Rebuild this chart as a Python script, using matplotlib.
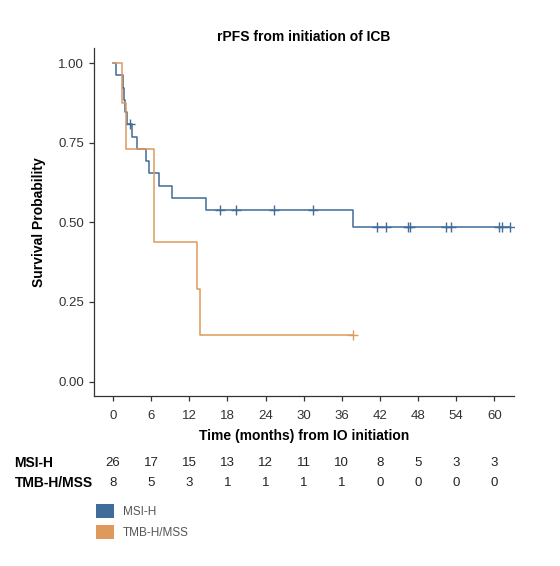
import numpy as np
import matplotlib
matplotlib.use("Agg")
import matplotlib.pyplot as plt
from matplotlib.patches import Patch

plt.rcParams['font.family'] = ['Liberation Sans', 'DejaVu Sans']

# step curves (time in months, survival)
msi_t = [0, 0.5, 1.5, 1.7, 1.9, 2.2, 2.9, 3.75, 5.2, 5.6, 7.2, 9.3, 14.6, 37.8]
msi_s = [1.0, 0.962, 0.923, 0.885, 0.846, 0.808, 0.769, 0.731, 0.692, 0.654, 0.615, 0.577, 0.538, 0.484]
msi_end = 62.4
msi_cens = [2.7, 16.75, 19.4, 25.4, 31.5, 41.6, 42.9, 46.4, 46.8, 52.4, 53.2, 60.7, 61.2, 62.4]

tmb_t = [0, 1.4, 2.1, 6.4, 13.2, 13.7]
tmb_s = [1.0, 0.875, 0.729, 0.438, 0.292, 0.146]
tmb_end = 37.8
tmb_cens = [37.8]

risk_times = [0, 6, 12, 18, 24, 30, 36, 42, 48, 54, 60]
msi_risk = [26, 17, 15, 13, 12, 11, 10, 8, 5, 3, 3]
tmb_risk = [8, 5, 3, 1, 1, 1, 1, 0, 0, 0, 0]

blue = '#3f6c99'
orange = '#dd9a5c'

fig = plt.figure(figsize=(5.6, 5.66), dpi=100)
ax = fig.add_axes([0.1679, 0.301, 0.750, 0.614])


def draw_curve(t, s, end, cens, color):
    tt = np.append(t, end)
    ss = np.append(s, s[-1])
    ax.step(tt, ss, where='post', color=color, lw=1.1)
    idx = np.searchsorted(t, cens, side='right') - 1
    ax.plot(cens, np.array(s)[idx], ls='none', marker='+', ms=7, mew=1.0, color=color)


draw_curve(msi_t, msi_s, msi_end, msi_cens, blue)
draw_curve(tmb_t, tmb_s, tmb_end, tmb_cens, orange)

ax.set_xlim(-3.0, 63.1)
ax.set_ylim(-0.044, 1.047)
ax.set_xticks(risk_times)
ax.set_yticks([0, 0.25, 0.5, 0.75, 1.0])
ax.set_yticklabels(['0.00', '0.25', '0.50', '0.75', '1.00'])
for side in ['top', 'right']:
    ax.spines[side].set_visible(False)
for side in ['left', 'bottom']:
    ax.spines[side].set_color('#333333')
    ax.spines[side].set_linewidth(0.9)
ax.tick_params(axis='both', labelsize=9.5, labelcolor='#333333', color='#333333',
               length=3.5, width=0.9)
ax.tick_params(axis='x', pad=7)
ax.set_xlabel('Time (months) from IO initiation', fontsize=10, fontweight='bold', labelpad=5)
ax.set_ylabel('Survival Probability', fontsize=10, fontweight='bold', labelpad=9)
ax.set_title('rPFS from initiation of ICB', fontsize=10, fontweight='bold', pad=5)

# number at risk table under the x axis
trans = matplotlib.transforms.blended_transform_factory(ax.transData, fig.transFigure)
row_y = [1 - 463 / 566, 1 - 483 / 566]
for name, counts, y in [('MSI-H', msi_risk, row_y[0]), ('TMB-H/MSS', tmb_risk, row_y[1])]:
    fig.text(0.026, y, name, fontsize=10, fontweight='bold', ha='left', va='center')
    for t, n in zip(risk_times, counts):
        ax.text(t, y, str(n), transform=trans, fontsize=9.5, ha='center', va='center',
                color='#222222')

handles = [Patch(facecolor=blue, edgecolor='none', label='MSI-H'),
           Patch(facecolor=orange, edgecolor='none', label='TMB-H/MSS')]
leg = fig.legend(handles=handles, loc='upper left', bbox_to_anchor=(96 / 560, 1 - 504 / 566),
                 frameon=False, fontsize=8.5, handlelength=1.5, handleheight=1.5,
                 labelspacing=0.55, handletextpad=0.8, borderpad=0, borderaxespad=0)
for txt in leg.get_texts():
    txt.set_color('#555555')

fig.savefig('out.png', dpi=100)
